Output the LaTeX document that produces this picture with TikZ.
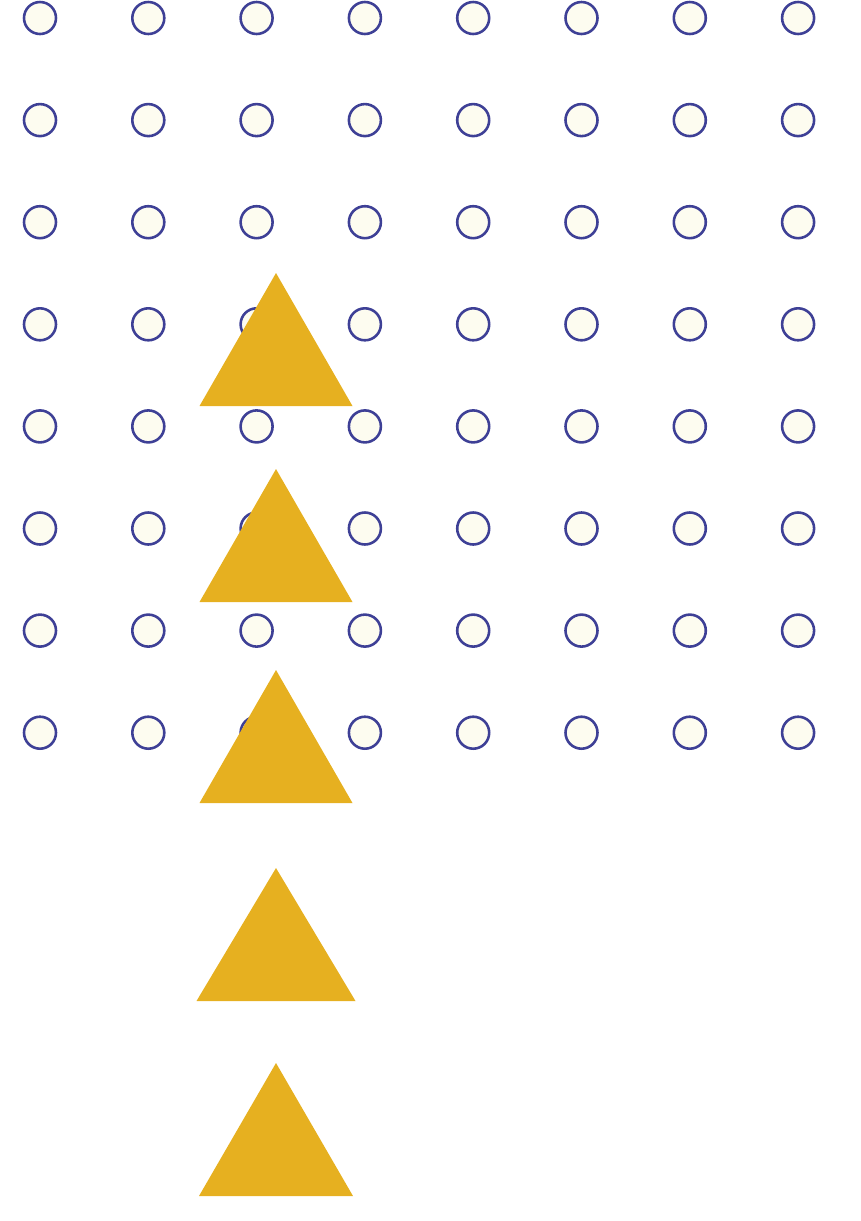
\documentclass[tikz,border=0pt]{standalone}
\usetikzlibrary{positioning}
\definecolor{bleu}{RGB}{62,64,150}
\definecolor{creme}{RGB}{253,252,240}
\definecolor{jaune}{RGB}{230,176,32}
\tikzset{rond/.style={circle,draw=bleu,fill=creme,line width=2.2pt,inner sep=0pt,minimum size=0.96cm}}
\begin{document}
\begin{tikzpicture}[x=0.03cm,y=-0.03cm]
        \useasboundingbox (0,0) rectangle (861,1221);
        % Grille de cercles
        \foreach \i in {0,...,7}
          \foreach \j in {0,...,7}
            \node[rond] (c-\i-\j) at ({40+108.3*\i},{18+102.1*\j}) {};
        % Triangles (demi-largeur, hauteur)
        \foreach \y/\w [count=\k] in {273/76.5,469/76.5,670/76.5,868/79.5,1063/77}
          \fill[jaune] (276,\y) coordinate (T\k) -- (276-\w,\y+133) -- (276+\w,\y+133) -- cycle;
    \end{tikzpicture}
\end{document}
